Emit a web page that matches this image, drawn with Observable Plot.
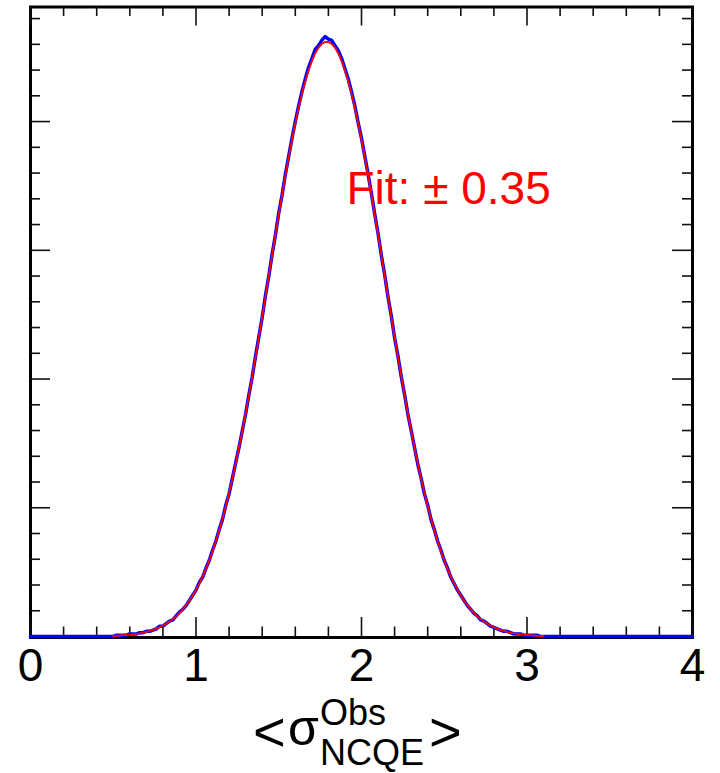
<!DOCTYPE html>
<html><head><meta charset="utf-8">
<script src="https://cdn.jsdelivr.net/npm/d3@7"></script>
<script src="https://cdn.jsdelivr.net/npm/@observablehq/plot@0.6"></script>
<style>
body{margin:0;background:#fff;}
#chart svg{display:block}
</style>
</head><body><div id="chart"></div>
<script>
// ---- data ----
const xMajorTicks = [0, 1, 2, 3, 4];
const xTickLabels = ["0", "1", "2", "3", "4"];
const yMajorTicks = [0, 1, 2, 3, 4];
const xDomain = [0, 4];
const yDomain = [0, 4.89];

// blue histogram: bins of width 0.02 from 0 to 4 (centres)
const histStart = 0, histStep = 0.02;
const histCounts = [
 0,0,0,0,0,0,0,0,0,0,0,0,0,0,0,0,0,0,0,0,0,0,0,0,0,
 0.00,0.01,0.01,0.01,0.01,0.02,0.02,0.02,0.03,0.03,
 0.04,0.04,0.05,0.06,0.08,0.08,0.10,0.12,0.13,0.16,
 0.19,0.21,0.24,0.28,0.32,0.36,0.42,0.46,0.53,0.59,
 0.67,0.74,0.83,0.91,1.02,1.11,1.23,1.35,1.47,1.60,
 1.73,1.88,2.02,2.18,2.33,2.48,2.65,2.80,2.97,3.12,
 3.29,3.43,3.59,3.73,3.87,4.00,4.12,4.23,4.33,4.42,
 4.49,4.56,4.59,4.63,4.66,4.64,4.63,4.59,4.55,4.49,
 4.41,4.33,4.23,4.12,3.99,3.87,3.73,3.59,3.44,3.28,
 3.13,2.96,2.81,2.64,2.49,2.32,2.18,2.02,1.88,1.73,
 1.60,1.47,1.34,1.23,1.11,1.02,0.91,0.83,0.74,0.67,
 0.59,0.53,0.46,0.41,0.36,0.32,0.28,0.24,0.21,0.18,
 0.16,0.13,0.12,0.10,0.08,0.07,0.06,0.05,0.04,0.04,
 0.03,0.02,0.02,0.02,0.01,0.01,0.01,0.01,0.01,0.00,0.00,
 0,0,0,0,0,0,0,0,0,0,0,0,0,0,0,0,0,0,0,0,0,0,0,0,0,0,0,0,0,0,0,0,0,0,0,0,0,0,0,0,0,0,0,0,0
];

// red fit curve sampled every 0.02 from 0.50 to 3.10
const fitStart = 0.5, fitStep = 0.02;
const fitValues = [
 0.005,0.006,0.008,0.010,0.012,0.014,0.017,0.021,0.025,0.030,
 0.036,0.043,0.051,0.061,0.072,0.085,0.099,0.116,0.135,0.157,
 0.182,0.210,0.242,0.278,0.318,0.362,0.411,0.465,0.525,0.590,
 0.662,0.740,0.824,0.914,1.012,1.116,1.227,1.344,1.468,1.598,
 1.734,1.875,2.022,2.172,2.326,2.483,2.642,2.802,2.962,3.121,
 3.278,3.431,3.580,3.723,3.859,3.987,4.106,4.215,4.312,4.397,
 4.470,4.529,4.573,4.603,4.618,4.618,4.603,4.573,4.529,4.470,
 4.397,4.312,4.215,4.106,3.987,3.859,3.723,3.580,3.431,3.278,
 3.121,2.962,2.802,2.642,2.483,2.326,2.172,2.022,1.875,1.734,
 1.598,1.468,1.344,1.227,1.116,1.012,0.914,0.824,0.740,0.662,
 0.590,0.525,0.465,0.411,0.362,0.318,0.278,0.242,0.210,0.182,
 0.157,0.135,0.116,0.099,0.085,0.072,0.061,0.051,0.043,0.036,
 0.030,0.025,0.021,0.017,0.014,0.012,0.010,0.008,0.006,0.005,0.004
];
const fitLabel = "Fit: \u00b1 0.35";

// ---- layout ----
const W = 720, H = 690, mt = 6.5, mr = 28, mb = 54, ml = 30;
const innerW = W - ml - mr, innerH = H - mt - mb;
const font = "'Liberation Sans', Arial, Helvetica, sans-serif";

const hist = histCounts.map((v, i) => ({x: histStart + i * histStep, y: v}));
const fit = fitValues.map((v, i) => ({x: fitStart + i * fitStep, y: v}));
const xMinor = d3.range(0, 41).map(i => i / 10).filter((d, i) => i % 2 === 0 && i % 10 !== 0);
const yMinor = d3.range(0, 49).map(i => i / 10).filter((d, i) => i % 2 === 0 && i % 10 !== 0);

const tickStyle = {stroke: "#111", strokeWidth: 1.6};
const chart = Plot.plot({
  width: W, height: H,
  marginTop: mt, marginRight: mr, marginBottom: mb, marginLeft: ml,
  style: {fontFamily: font, background: "#fff", color: "#000"},
  x: {domain: xDomain, axis: null},
  y: {domain: yDomain, axis: null},
  marks: [
    Plot.frame({stroke: "#000", strokeWidth: 3, insetBottom: -1}),
    // ticks (inside the frame, on all four sides)
    Plot.tickX(xMajorTicks, {x: d => d, insetTop: innerH - 19, ...tickStyle}),
    Plot.tickX(xMinor, {x: d => d, insetTop: innerH - 9.5, ...tickStyle}),
    Plot.tickX(xMajorTicks, {x: d => d, insetBottom: innerH - 19, ...tickStyle}),
    Plot.tickX(xMinor, {x: d => d, insetBottom: innerH - 9.5, ...tickStyle}),
    Plot.tickY(yMajorTicks, {y: d => d, insetRight: innerW - 20, ...tickStyle}),
    Plot.tickY(yMinor, {y: d => d, insetRight: innerW - 10, ...tickStyle}),
    Plot.tickY(yMajorTicks, {y: d => d, insetLeft: innerW - 20, ...tickStyle}),
    Plot.tickY(yMinor, {y: d => d, insetLeft: innerW - 10, ...tickStyle}),
    Plot.axisX(xMajorTicks, {tickSize: 0, tickPadding: 12, fontSize: 46, label: null,
      tickFormat: d => xTickLabels[xMajorTicks.indexOf(d)]}),
    Plot.line(hist, {x: "x", y: "y", stroke: "#0000ff", strokeWidth: 3.5}),
    Plot.line(fit, {x: "x", y: "y", stroke: "#ff0000", strokeWidth: 1.8}),
    Plot.text([fitLabel], {text: d => d, frameAnchor: "top-left", dx: 316, dy: 196.5,
      lineAnchor: "bottom", textAnchor: "start", fontSize: 46, fill: "#ff0000"})
  ]
});
document.getElementById("chart").appendChild(chart);

// axis title below the plot: <σ^Obs_NCQE>
const t = d3.select("#chart").append("svg")
  .attr("width", W).attr("height", 773 - H)
  .style("display", "block")
  .attr("font-family", font).attr("fill", "#000");
t.append("text").attr("x", 253).attr("y", 61).attr("font-size", 56).text("<");
t.append("text").attr("x", 288).attr("y", 55).attr("font-size", 50).text("\u03c3");
t.append("text").attr("x", 320).attr("y", 35).attr("font-size", 36).text("Obs");
t.append("text").attr("x", 320).attr("y", 75).attr("font-size", 36).text("NCQE");
t.append("text").attr("x", 429).attr("y", 61).attr("font-size", 56).text(">");
</script>
</body></html>
